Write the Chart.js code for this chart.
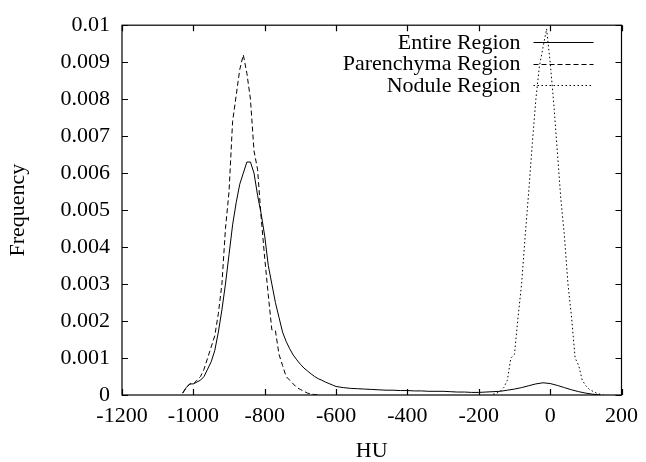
<!DOCTYPE html>
<html>
<head>
<meta charset="utf-8">
<script src="https://cdn.jsdelivr.net/npm/chart.js@4.4.1/dist/chart.umd.min.js"></script>
<style>
  html, body { margin: 0; padding: 0; background: #fff; }
  #chart { display: block; }
</style>
</head>
<body>
<canvas id="chart" width="646" height="462"></canvas>
<script>
// values (HU bin centre -> frequency)
const entireHU = [-1030, -1020, -1010, -1000, -990, -980, -970, -960, -950, -940, -930, -920, -910, -900,
  -890, -880, -870, -860, -850, -840, -830, -820, -810, -800, -790, -780, -770, -760, -750, -740, -730,
  -720, -710, -700, -690, -680, -670, -660, -650, -640, -630, -620, -610, -600, -580, -560, -540, -520,
  -500, -480, -460, -440, -420, -400, -380, -360, -340, -320, -300, -280, -260, -240, -220, -200, -180,
  -160, -140, -120, -100, -80, -60, -40, -20, 0, 20, 40, 60, 80, 100, 120, 140];
const entireFreq = [0.00005, 0.0002, 0.0003, 0.0003, 0.00035, 0.0004, 0.0005, 0.0007, 0.0009, 0.0012, 0.0017,
  0.0023, 0.0030, 0.0038, 0.0046, 0.0052, 0.0057, 0.0060, 0.0063, 0.0063, 0.0060, 0.0054, 0.0049, 0.0043,
  0.0035, 0.0030, 0.0025, 0.0021, 0.0017, 0.00145, 0.00125, 0.00108, 0.00095, 0.00083, 0.00073, 0.00065,
  0.00057, 0.0005, 0.00044, 0.0004, 0.00035, 0.00031, 0.00027, 0.00023, 0.0002, 0.00018, 0.00017, 0.00016,
  0.00015, 0.00014, 0.00013, 0.00013, 0.00012, 0.00012, 0.00011, 0.00011, 0.0001, 0.0001, 0.0001, 0.00009,
  0.00008, 0.00008, 0.00007, 0.00007, 0.00008, 0.00009, 0.0001, 0.00013, 0.00016, 0.0002, 0.00025, 0.0003,
  0.00033, 0.00031, 0.00026, 0.0002, 0.00014, 0.00009, 0.00005, 0.00002, 0];

const parenHU = [-1030, -1020, -1010, -1000, -990, -980, -970, -960, -950, -940, -930, -920, -910, -900,
  -890, -880, -870, -860, -850, -840, -830, -820, -810, -800, -790, -780, -770, -760, -750, -740, -730,
  -720, -710, -700, -690, -680, -670, -660, -650];
const parenFreq = [0.00005, 0.0002, 0.0003, 0.0003, 0.0004, 0.0005, 0.0007, 0.001, 0.0013, 0.0016, 0.0022,
  0.003, 0.0045, 0.0055, 0.0074, 0.0081, 0.0088, 0.0092, 0.0087, 0.008, 0.0066, 0.0061, 0.0048, 0.0037,
  0.0027, 0.00176, 0.00174, 0.0011, 0.0008, 0.0005, 0.0004, 0.0003, 0.0002, 0.00015, 0.0001, 0.00005,
  0.00003, 0.00001, 0];

const noduleHU = [-160, -150, -140, -130, -120, -110, -100, -90, -80, -70, -60, -50, -40, -30, -20, -10,
  0, 10, 20, 30, 40, 50, 60, 70, 80, 90, 100, 110, 120, 130, 140, 150];
const noduleFreq = [0.00002, 0.00005, 0.0001, 0.0002, 0.0004, 0.001, 0.0011, 0.0021, 0.003, 0.0043, 0.0055,
  0.0068, 0.008, 0.0089, 0.0094, 0.0099, 0.009, 0.0079, 0.0066, 0.0053, 0.0043, 0.003, 0.0021, 0.001,
  0.0008, 0.0004, 0.00025, 0.00015, 0.0001, 0.00005, 0.00002, 0];

const seriesNames = ['Entire Region', 'Parenchyma Region', 'Nodule Region'];
const xTicks = [-1200, -1000, -800, -600, -400, -200, 0, 200];
const yTicks = [0, 0.001, 0.002, 0.003, 0.004, 0.005, 0.006, 0.007, 0.008, 0.009, 0.01];

const serif = 'Liberation Serif, Times New Roman, serif';

function pts(xs, ys) {
  return xs.map((x, i) => ({ x: x, y: ys[i] }));
}

// gnuplot style frame with inward ticks on all four sides
const framePlugin = {
  id: 'frame',
  afterDatasetsDraw(chart) {
    const ctx = chart.ctx;
    const a = chart.chartArea;
    const xs = chart.scales.x;
    const ys = chart.scales.y;
    ctx.save();
    ctx.strokeStyle = '#000';
    ctx.lineWidth = 1.2;
    ctx.setLineDash([]);
    ctx.strokeRect(a.left, a.top, a.right - a.left, a.bottom - a.top);
    ctx.beginPath();
    xTicks.forEach(v => {
      const px = Math.round(xs.getPixelForValue(v)) + 0.5;
      ctx.moveTo(px, a.bottom); ctx.lineTo(px, a.bottom - 6);
      ctx.moveTo(px, a.top); ctx.lineTo(px, a.top + 6);
    });
    yTicks.forEach(v => {
      const py = Math.round(ys.getPixelForValue(v)) + 0.5;
      ctx.moveTo(a.left, py); ctx.lineTo(a.left + 6, py);
      ctx.moveTo(a.right, py); ctx.lineTo(a.right - 6, py);
    });
    ctx.stroke();

    // key, top right inside the frame
    ctx.font = '22px ' + serif;
    ctx.fillStyle = '#000';
    ctx.textAlign = 'right';
    ctx.textBaseline = 'middle';
    chart.data.datasets.forEach((ds, i) => {
      const y = a.top + 17 + i * 21.5;
      ctx.fillText(ds.label, a.right - 101, y + 1);
      ctx.beginPath();
      ctx.lineWidth = 1;
      ctx.setLineDash(ds.borderDash || []);
      ctx.moveTo(a.right - 88, Math.round(y) + 0.5);
      ctx.lineTo(a.right - 28, Math.round(y) + 0.5);
      ctx.stroke();
    });
    ctx.restore();
  }
};

new Chart(document.getElementById('chart'), {
  type: 'line',
  data: {
    datasets: [
      { label: seriesNames[0], data: pts(entireHU, entireFreq), borderColor: '#000', borderWidth: 1 },
      { label: seriesNames[1], data: pts(parenHU, parenFreq), borderColor: '#000', borderWidth: 1, borderDash: [5, 3] },
      { label: seriesNames[2], data: pts(noduleHU, noduleFreq), borderColor: '#000', borderWidth: 1, borderDash: [1.5, 2.5] }
    ]
  },
  options: {
    responsive: false,
    animation: false,
    devicePixelRatio: 1,
    layout: { padding: { top: 21, right: 20, left: 0, bottom: 0 } },
    elements: { point: { radius: 0 }, line: { tension: 0 } },
    plugins: {
      legend: { display: false },
      tooltip: { enabled: false }
    },
    scales: {
      x: {
        type: 'linear',
        min: -1200,
        max: 200,
        afterBuildTicks: s => { s.ticks = xTicks.map(v => ({ value: v })); },
        afterFit: s => { s.height = 67; },
        grid: { display: false, drawTicks: false },
        border: { display: false },
        ticks: {
          color: '#000',
          padding: 8,
          maxRotation: 0,
          font: { family: serif, size: 22 },
          callback: v => String(v)
        },
        title: { display: true, text: 'HU', color: '#000', padding: { top: 0, bottom: 0 }, font: { family: serif, size: 22, lineHeight: 1 } }
      },
      y: {
        min: 0,
        max: 0.01,
        afterBuildTicks: s => { s.ticks = yTicks.map(v => ({ value: v })); },
        afterFit: s => { s.width = 122; },
        grid: { display: false, drawTicks: false },
        border: { display: false },
        ticks: {
          color: '#000',
          padding: 12,
          font: { family: serif, size: 22 },
          callback: v => String(parseFloat(v.toFixed(3)))
        },
        title: { display: true, text: 'Frequency', color: '#000', padding: { top: 7, bottom: 0 }, font: { family: serif, size: 22, lineHeight: 1 } }
      }
    }
  },
  plugins: [framePlugin]
});
</script>
</body>
</html>
